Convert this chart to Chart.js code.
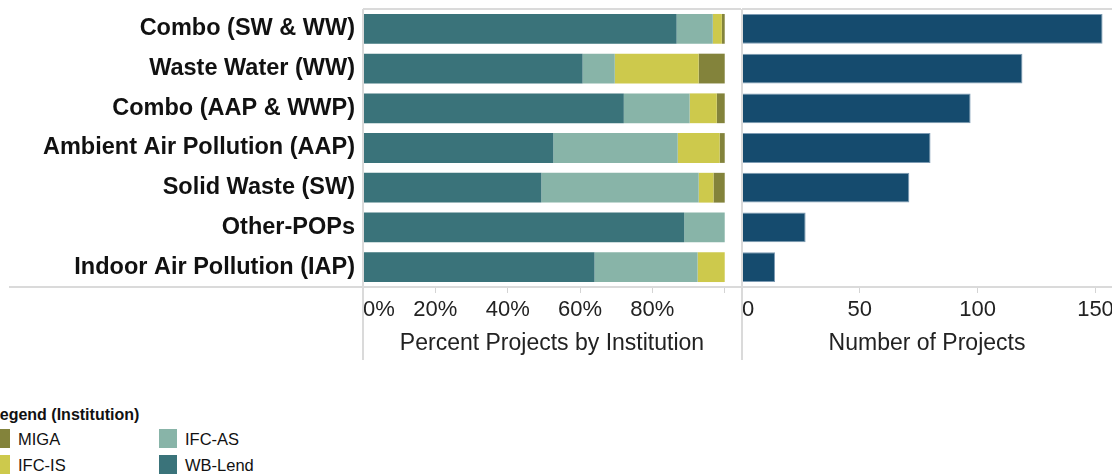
<!DOCTYPE html>
<html>
<head>
<meta charset="utf-8">
<title>Projects by Institution</title>
<script src="https://cdn.jsdelivr.net/npm/chart.js@4.4.1/dist/chart.umd.min.js"></script>
<style>
  body { margin: 0; width: 1112px; height: 474px; overflow: hidden; background: #fff;
         position: relative; font-family: "Liberation Sans", Arial, sans-serif; }
  #pct { position: absolute; left: 0; top: 0; }
  #cnt { position: absolute; left: 741px; top: 0; }
  .lg-title { position: absolute; left: -10px; top: 406px; font: bold 16px "Liberation Sans", Arial, sans-serif; color: #111; }
  .lg-item { position: absolute; font: 16.5px "Liberation Sans", Arial, sans-serif; color: #111; line-height: 19px; }
  .lg-item i { position: absolute; left: 0; top: 0; width: 18px; height: 19px; }
  .lg-item span { position: absolute; left: 26px; top: 1px; white-space: nowrap; }
</style>
</head>
<body>
<canvas id="pct" width="741" height="365"></canvas>
<canvas id="cnt" width="371" height="365"></canvas>

<div class="lg-title">Legend (Institution)</div>
<div class="lg-item" style="left:-8px;top:429px"><i style="background:#83833b"></i><span>MIGA</span></div>
<div class="lg-item" style="left:-8px;top:455px"><i style="background:#cdc94c"></i><span>IFC-IS</span></div>
<div class="lg-item" style="left:159px;top:429px"><i style="background:#88b4a8"></i><span>IFC-AS</span></div>
<div class="lg-item" style="left:159px;top:455px"><i style="background:#3a737a"></i><span>WB-Lend</span></div>

<script>
/* Percent of projects by institution + project counts */

const categories = [
  'Combo (SW & WW)',
  'Waste Water (WW)',
  'Combo (AAP & WWP)',
  'Ambient Air Pollution (AAP)',
  'Solid Waste (SW)',
  'Other-POPs',
  'Indoor Air Pollution (IAP)'
]

// percent shares, left to right in each bar
const wbLend = [86.7, 60.7, 72.1, 52.6, 49.3, 88.8, 64.0]
const ifcAs  = [10.0,  8.9, 18.2, 34.4, 43.5, 11.2, 28.5]
const ifcIs  = [ 2.5, 23.2,  7.5, 11.6,  4.1,  0,    7.5]
const miga   = [ 0.8,  7.2,  2.2,  1.4,  3.1,  0,    0  ]

const projectCounts = [153, 119, 97, 80, 71, 27, 14]

// tick marks, and the ones that get a label (100% is clipped in the original)
const pctTickMarks = [0, 20, 40, 60, 80, 100]
const pctTickLabels = [0, 20, 40, 60, 80]
const countTickMarks = [0, 50, 100, 150]
const countTickLabels = [0, 50, 100, 150]

const FONT = '"Liberation Sans", Arial, sans-serif'
const LINE = '#dadada'

// frame lines that Tableau draws round the panes
const frameLines = {
  id: 'frameLines',
  afterDraw(chart, args, opts) {
    const { ctx, chartArea: a, width } = chart
    ctx.save()
    ctx.strokeStyle = LINE
    ctx.lineWidth = 2
    ctx.beginPath()
    ctx.moveTo(a.left, a.top); ctx.lineTo(width, a.top)
    ctx.moveTo(opts.bottomFrom, a.bottom); ctx.lineTo(width, a.bottom)
    ctx.moveTo(a.left, a.top); ctx.lineTo(a.left, opts.lineEnd)
    ctx.stroke()
    ctx.restore()
  }
}

function noPad(scale) {
  scale.paddingTop = 0
  scale.paddingBottom = 0
  scale.paddingLeft = 0
  scale.paddingRight = 0
}

function bottomAxis(max, marks, labels, fmt, title) {
  return {
    type: 'linear',
    position: 'bottom',
    min: 0,
    max: max,
    // own tick list + the pane edge as a blank last tick
    afterBuildTicks(scale) { scale.ticks = marks.concat([max]).map(value => ({ value })) },
    afterFit(scale) { scale.height = 78; noPad(scale) },
    border: { display: false },
    grid: {
      drawOnChartArea: false,
      drawTicks: true,
      tickLength: 6,
      lineWidth: 1,
      color: ctx => (ctx.tick && marks.includes(ctx.tick.value)) ? '#d4d4d4' : 'rgba(0,0,0,0)'
    },
    ticks: {
      autoSkip: false,
      maxRotation: 0,
      align: 'inner',
      padding: 4,
      color: '#222',
      font: { family: FONT, size: 22 },
      callback: v => labels.includes(v) ? fmt(v) : ''
    },
    title: {
      display: true,
      text: title,
      color: '#222',
      font: { family: FONT, size: 23 },
      padding: { top: 0, bottom: 8 }
    }
  }
}

new Chart(document.getElementById('pct'), {
  type: 'bar',
  data: {
    labels: categories,
    datasets: [
      { label: 'WB-Lend', data: wbLend, backgroundColor: '#3a737a' },
      { label: 'IFC-AS', data: ifcAs, backgroundColor: '#88b4a8' },
      { label: 'IFC-IS', data: ifcIs, backgroundColor: '#cdc94c' },
      { label: 'MIGA', data: miga, backgroundColor: '#83833b' }
    ]
  },
  options: {
    indexAxis: 'y',
    responsive: false,
    animation: false,
    devicePixelRatio: 1,
    layout: { padding: { top: 9, left: 0, right: 0, bottom: 0 } },
    datasets: { bar: { categoryPercentage: 1, barPercentage: 0.75, borderWidth: 0 } },
    scales: {
      x: Object.assign(bottomAxis(104.5, pctTickMarks, pctTickLabels, v => v + '%', 'Percent Projects by Institution'), { stacked: true }),
      y: {
        stacked: true,
        afterFit(scale) { scale.width = 363; noPad(scale) },
        border: { display: false },
        grid: { display: false, drawTicks: false },
        ticks: {
          padding: 8,
          color: '#111',
          font: { family: FONT, size: 23.5, weight: 'bold' }
        }
      }
    },
    plugins: {
      legend: { display: false },
      tooltip: { enabled: false },
      frameLines: { bottomFrom: 9, lineEnd: 360 }
    }
  },
  plugins: [frameLines]
})

new Chart(document.getElementById('cnt'), {
  type: 'bar',
  data: {
    labels: categories,
    datasets: [
      {
        label: 'Number of Projects',
        data: projectCounts,
        backgroundColor: '#154b6e',
        borderColor: '#7d9bb3',
        borderWidth: 1,
        borderSkipped: 'start'
      }
    ]
  },
  options: {
    indexAxis: 'y',
    responsive: false,
    animation: false,
    devicePixelRatio: 1,
    layout: { padding: { top: 9, left: 1, right: 0, bottom: 0 } },
    datasets: { bar: { categoryPercentage: 1, barPercentage: 0.75 } },
    scales: {
      x: bottomAxis(157, countTickMarks, countTickLabels, v => String(v), 'Number of Projects'),
      y: { display: false }
    },
    plugins: {
      legend: { display: false },
      tooltip: { enabled: false },
      frameLines: { bottomFrom: 0, lineEnd: 360 }
    }
  },
  plugins: [frameLines]
})
</script>
</body>
</html>
